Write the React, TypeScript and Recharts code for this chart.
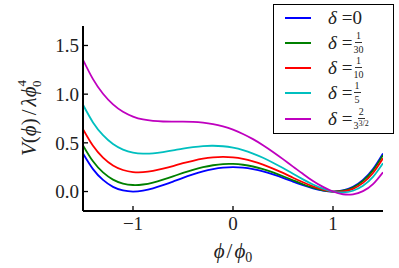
import React from 'react';
import { LineChart, Line, XAxis, YAxis } from 'recharts';

// field value phi / phi0
const PHI = [
  -1.5, -1.4, -1.3, -1.2, -1.1, -1.0, -0.9, -0.8, -0.7, -0.6, -0.5, -0.4, -0.3, -0.2, -0.1, 0,
  0.1, 0.2, 0.3, 0.4, 0.5, 0.6, 0.7, 0.8, 0.9, 1.0, 1.1, 1.2, 1.3, 1.4, 1.5,
];

// V / lambda phi0^4 for each delta
const V_D0 = [
  0.391, 0.230, 0.119, 0.048, 0.011, 0.0, 0.009, 0.032, 0.065, 0.102, 0.141, 0.176, 0.207, 0.230, 0.245, 0.250,
  0.245, 0.230, 0.207, 0.176, 0.141, 0.102, 0.065, 0.032, 0.009, 0.0, 0.011, 0.048, 0.119, 0.230, 0.391,
];
const V_D1 = [
  0.474, 0.310, 0.196, 0.122, 0.081, 0.067, 0.072, 0.092, 0.122, 0.156, 0.191, 0.223, 0.250, 0.270, 0.282, 0.283,
  0.275, 0.257, 0.230, 0.196, 0.157, 0.116, 0.075, 0.039, 0.012, 0.0, 0.008, 0.042, 0.109, 0.217, 0.374,
];
const V_D2 = [
  0.641, 0.470, 0.349, 0.268, 0.221, 0.200, 0.199, 0.212, 0.235, 0.262, 0.291, 0.316, 0.337, 0.350, 0.355, 0.350,
  0.335, 0.310, 0.277, 0.236, 0.191, 0.142, 0.095, 0.052, 0.019, 0.0, 0.001, 0.028, 0.089, 0.190, 0.341,
];
const V_D3 = [
  0.891, 0.710, 0.579, 0.488, 0.431, 0.400, 0.389, 0.392, 0.405, 0.422, 0.441, 0.456, 0.467, 0.470, 0.465, 0.450,
  0.425, 0.390, 0.347, 0.296, 0.241, 0.182, 0.125, 0.072, 0.029, 0.0, -0.009, 0.008, 0.059, 0.150, 0.291,
];
const V_D4 = [
  1.353, 1.154, 1.004, 0.895, 0.819, 0.770, 0.740, 0.725, 0.719, 0.718, 0.718, 0.715, 0.707, 0.692, 0.668, 0.635,
  0.591, 0.538, 0.476, 0.407, 0.333, 0.256, 0.181, 0.109, 0.048, 0.0, -0.028, -0.029, 0.004, 0.076, 0.198,
];

const X_TICKS = [-1, 0, 1];
const Y_TICKS = [0, 0.5, 1.0, 1.5];

const SERIES = [
  { key: 'd0', values: V_D0, color: '#0000ff' },
  { key: 'd1', values: V_D1, color: '#008000' },
  { key: 'd2', values: V_D2, color: '#ff0000' },
  { key: 'd3', values: V_D3, color: '#00bfbf' },
  { key: 'd4', values: V_D4, color: '#bf00bf' },
];

const data = PHI.map((phi, i) => {
  const row: Record<string, number> = { phi };
  SERIES.forEach((s) => {
    row[s.key] = s.values[i];
  });
  return row;
});

const FONT = 'Liberation Serif, DejaVu Serif, serif';

const fmtX = (v: number) => (v < 0 ? '\u2212' + Math.abs(v) : String(v));

const Frac = ({ num, den }: { num: React.ReactNode; den: React.ReactNode }) => (
  <span
    style={{
      display: 'inline-flex',
      flexDirection: 'column',
      alignItems: 'center',
      fontSize: 10,
      lineHeight: '10px',
      verticalAlign: 'middle',
      marginLeft: 1,
    }}
  >
    <span style={{ borderBottom: '1px solid #333', padding: '0 1px 1px' }}>{num}</span>
    <span style={{ paddingTop: 2 }}>{den}</span>
  </span>
);

const LEGEND_LABELS: React.ReactNode[] = [
  <>0</>,
  <Frac num="1" den="30" />,
  <Frac num="1" den="10" />,
  <Frac num="1" den="5" />,
  <Frac num="2" den={<>3<span style={{ fontSize: 8, position: 'relative', top: -3 }}>3/2</span></>} />,
];
const LEGEND_ROWS = [13, 38, 63, 88, 114];

export default function App() {
  return (
    <div style={{ position: 'absolute', left: 0, top: 0, width: 399, height: 268, background: '#fff', fontFamily: FONT }}>
      <LineChart width={399} height={268} data={data} margin={{ top: 26, right: 16, bottom: 27, left: 33 }}>
        <XAxis
          xAxisId="b"
          dataKey="phi"
          type="number"
          domain={[-1.5, 1.5]}
          ticks={X_TICKS}
          tickFormatter={fmtX}
          tickSize={-5}
          tickMargin={11}
          height={30}
          axisLine={{ stroke: '#000', strokeWidth: 2 }}
          tickLine={{ stroke: '#000', strokeWidth: 1.3 }}
          tick={{ fill: '#222', fontSize: 19, fontFamily: FONT }}
          allowDataOverflow
        />
        <XAxis
          xAxisId="t"
          orientation="top"
          dataKey="phi"
          type="number"
          domain={[-1.5, 1.5]}
          ticks={X_TICKS}
          tick={false}
          tickSize={-5}
          height={0}
          axisLine={{ stroke: '#000', strokeWidth: 2 }}
          tickLine={{ stroke: '#000', strokeWidth: 1.3 }}
          allowDataOverflow
        />
        <YAxis
          yAxisId="l"
          type="number"
          domain={[-0.2, 1.7]}
          ticks={Y_TICKS}
          tickFormatter={(v: number) => v.toFixed(1)}
          tickSize={-5}
          tickMargin={9}
          width={50}
          axisLine={{ stroke: '#000', strokeWidth: 2 }}
          tickLine={{ stroke: '#000', strokeWidth: 1.3 }}
          tick={{ fill: '#222', fontSize: 19, fontFamily: FONT }}
          allowDataOverflow
        />
        <YAxis
          yAxisId="r"
          orientation="right"
          type="number"
          domain={[-0.2, 1.7]}
          ticks={Y_TICKS}
          tick={false}
          tickSize={-5}
          width={0}
          axisLine={{ stroke: '#000', strokeWidth: 2 }}
          tickLine={{ stroke: '#000', strokeWidth: 1.3 }}
          allowDataOverflow
        />
        {SERIES.map((s) => (
          <Line
            key={s.key}
            xAxisId="b"
            yAxisId="l"
            dataKey={s.key}
            type="natural"
            stroke={s.color}
            strokeWidth={1.8}
            dot={false}
            activeDot={false}
            isAnimationActive={false}
          />
        ))}
        <text
          transform="translate(36,118) rotate(-90)"
          textAnchor="middle"
          fontFamily={FONT}
          fontSize={21}
          fill="#222"
        >
          <tspan fontStyle="italic">V</tspan>(<tspan fontStyle="italic">ϕ</tspan>)
          <tspan dx={3}>/</tspan>
          <tspan dx={3} fontStyle="italic">λϕ</tspan>
          <tspan fontSize={13} dy={-10}>4</tspan>
          <tspan fontSize={13} dx={-7} dy={15}>0</tspan>
        </text>
        <text x={233} y={258} textAnchor="middle" fontFamily={FONT} fontSize={21} fill="#222">
          <tspan fontStyle="italic">ϕ</tspan>
          <tspan dx={2}>/</tspan>
          <tspan dx={2} fontStyle="italic">ϕ</tspan>
          <tspan fontSize={14} dy={4}>0</tspan>
        </text>
      </LineChart>
      <div
        style={{
          position: 'absolute',
          left: 273,
          top: 4,
          width: 121,
          height: 130,
          boxSizing: 'border-box',
          border: '1.5px solid #000',
          background: '#fff',
        }}
      >
        {SERIES.map((s, i) => (
          <div key={s.key}>
            <div
              style={{
                position: 'absolute',
                left: 11,
                top: LEGEND_ROWS[i] - 1,
                width: 26,
                height: 2,
                background: s.color,
              }}
            />
            <div
              style={{
                position: 'absolute',
                left: 54,
                top: LEGEND_ROWS[i] - 12,
                height: 24,
                display: 'flex',
                alignItems: 'center',
                fontSize: 19,
                color: '#222',
                whiteSpace: 'nowrap',
              }}
            >
              <span style={{ fontStyle: 'italic' }}>δ</span>
              <span style={{ marginLeft: 5 }}>=</span>
              {LEGEND_LABELS[i]}
            </div>
          </div>
        ))}
      </div>
    </div>
  );
}
